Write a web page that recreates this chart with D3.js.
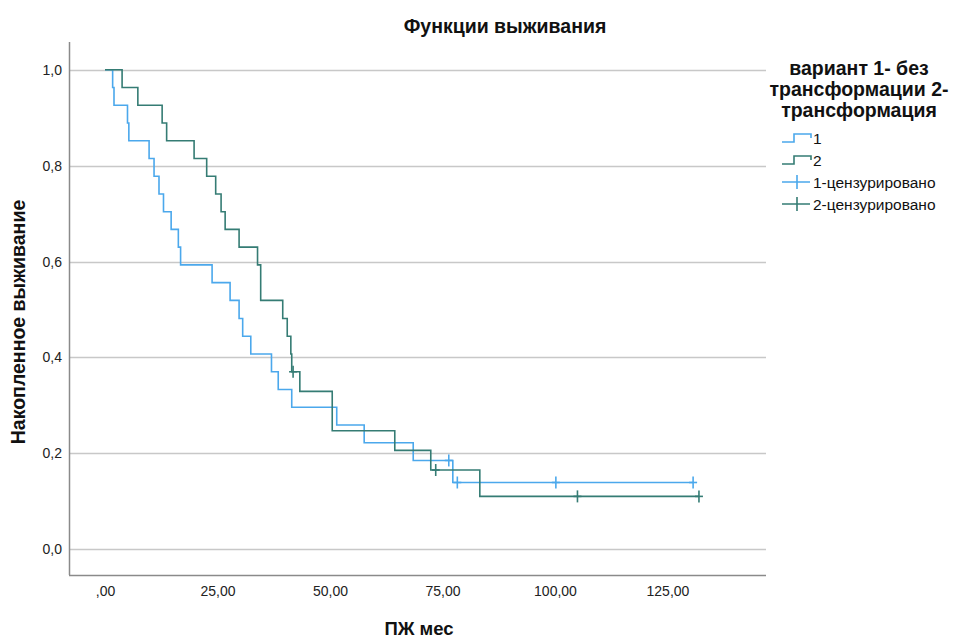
<!DOCTYPE html>
<html>
<head>
	<meta charset="utf-8">
	<title>Функции выживания</title>
	<script type="text/javascript" src="https://cdnjs.cloudflare.com/ajax/libs/d3/7.8.5/d3.min.js"></script>
	<style>
		body { margin: 0; background: #fff; }
		text { font-family: "Liberation Sans", Arial, sans-serif; fill: #111; }
	</style>
</head>
<body>
</body>

<script type="text/javascript">

// Kaplan-Meier values

// group 1 (без трансформации): step times and survival after each step
var g1Time = [0, 1.7, 2.0, 5.0, 5.3, 9.8, 10.9, 12.0, 13.0, 14.7, 16.3, 16.8, 23.8, 27.8, 29.8, 30.6, 32.4, 37.0, 38.5, 41.5, 51.5, 57.6, 68.5, 77.3]
var g1Surv = [1.000, 0.963, 0.926, 0.889, 0.852, 0.815, 0.778, 0.741, 0.704, 0.667, 0.630, 0.593, 0.556, 0.519, 0.481, 0.444, 0.407, 0.370, 0.333, 0.296, 0.259, 0.222, 0.185, 0.139]
var g1CensTime = [76.4, 78.3, 100.2, 130.7]
var g1CensSurv = [0.185, 0.139, 0.139, 0.139]

// group 2 (трансформация)
var g2Time = [0, 3.8, 7.3, 12.7, 13.7, 19.8, 22.6, 24.6, 25.8, 26.7, 29.8, 33.9, 34.6, 39.5, 40.5, 41.3, 41.5, 43.3, 50.5, 64.4, 72.4, 83.3]
var g2Surv = [1.000, 0.963, 0.926, 0.889, 0.852, 0.815, 0.778, 0.741, 0.704, 0.667, 0.630, 0.593, 0.519, 0.481, 0.444, 0.407, 0.370, 0.329, 0.247, 0.206, 0.165, 0.110]
var g2CensTime = [41.8, 73.5, 105.0, 132.0]
var g2CensSurv = [0.370, 0.165, 0.110, 0.110]

// axis ticks
var xTicks = [0, 25, 50, 75, 100, 125]
var yTicks = [0, 0.2, 0.4, 0.6, 0.8, 1.0]

var legendLabels = ["1", "2", "1-цензурировано", "2-цензурировано"]

var w = 954,
	h = 639

var col1 = "#4ba8ec",
	col2 = "#357c74"

var svg = d3.select("body").append("svg")
	.attr("width", w)
	.attr("height", h)

// plot frame (careful: "top" is taken by window.top)
var plotLeft = 69, plotRight = 766, plotTop = 42, plotBottom = 575

var xScale = d3.scaleLinear()
	.domain([-8, 146.9])
	.range([plotLeft, plotRight])

var yScale = d3.scaleLinear()
	.domain([-0.054, 1.058])
	.range([plotBottom, plotTop])

// gridlines
svg.append("g")
	.selectAll("line")
	.data(yTicks)
	.enter()
	.append("line")
	.attr("x1", plotLeft)
	.attr("x2", plotRight)
	.attr("y1", function(d){ return Math.round(yScale(d)) + 0.5 })
	.attr("y2", function(d){ return Math.round(yScale(d)) + 0.5 })
	.style("stroke", "#c8c8c8")
	.style("stroke-width", 1.5)

// axes (no tick marks, only labels)
var xAxis = d3.axisBottom(xScale)
	.tickValues(xTicks)
	.tickSize(0)
	.tickPadding(7)
	.tickFormat(function(d){ return d === 0 ? ",00" : d.toFixed(2).replace(".", ",") })

var yAxis = d3.axisLeft(yScale)
	.tickValues(yTicks)
	.tickSize(0)
	.tickPadding(7)
	.tickFormat(function(d){ return d.toFixed(1).replace(".", ",") })

var gx = svg.append("g")
	.attr("transform", "translate(0," + plotBottom + ")")
	.call(xAxis)
var gy = svg.append("g")
	.attr("transform", "translate(" + plotLeft + ",0)")
	.call(yAxis)

gx.select(".domain").attr("d", "M" + plotLeft + ",0.5H" + plotRight)
gy.select(".domain").attr("d", "M0.5," + plotTop + "V" + plotBottom)
svg.selectAll(".domain").style("stroke", "#8a8a8a").style("stroke-width", 1.5)
svg.selectAll(".tick text")
	.style("font-family", "'Liberation Sans', Arial, sans-serif")
	.style("font-size", "14px")
	.style("fill", "#222")
gx.selectAll(".tick text").attr("dy", "1.0em")

// step curves
var stepLine = d3.line()
	.x(function(d){ return xScale(d[0]) })
	.y(function(d){ return yScale(d[1]) })
	.curve(d3.curveStepAfter)

function drawGroup(times, surv, censT, censS, colour) {
	var pts = times.map(function(t, i){ return [t, surv[i]] })
	pts.push([d3.max(censT), surv[surv.length - 1]])

	svg.append("path")
		.datum(pts)
		.attr("d", stepLine)
		.style("fill", "none")
		.style("stroke", colour)
		.style("stroke-width", 1.6)

	// censor marks
	var marks = svg.append("g").selectAll("g")
		.data(censT)
		.enter()
		.append("g")
		.attr("transform", function(d, i){
			return "translate(" + xScale(d) + "," + yScale(censS[i]) + ")"
		})
	marks.append("line")
		.attr("x1", 0).attr("x2", 0).attr("y1", -6).attr("y2", 6)
		.style("stroke", colour).style("stroke-width", 1.6)
	marks.append("line")
		.attr("x1", -4).attr("x2", 4).attr("y1", 0).attr("y2", 0)
		.style("stroke", colour).style("stroke-width", 1.6)
}

drawGroup(g1Time, g1Surv, g1CensTime, g1CensSurv, col1)
drawGroup(g2Time, g2Surv, g2CensTime, g2CensSurv, col2)

// titles
svg.append("text")
	.attr("x", 505)
	.attr("y", 33)
	.attr("text-anchor", "middle")
	.style("font-size", "19.5px")
	.style("font-weight", "bold")
	.text("Функции выживания")

svg.append("text")
	.attr("transform", "translate(25,322) rotate(-90)")
	.attr("text-anchor", "middle")
	.style("font-size", "19.5px")
	.style("font-weight", "bold")
	.text("Накопленное выживание")

svg.append("text")
	.attr("x", 419)
	.attr("y", 635)
	.attr("text-anchor", "middle")
	.style("font-size", "18.5px")
	.style("font-weight", "bold")
	.text("ПЖ мес")

// legend
var legendTitle = ["вариант 1- без", "трансформации 2-", "трансформация"]
svg.append("g").selectAll("text")
	.data(legendTitle)
	.enter()
	.append("text")
	.attr("x", 859)
	.attr("y", function(d, i){ return 75 + i * 21 })
	.attr("text-anchor", "middle")
	.style("font-size", "19.5px")
	.style("font-weight", "bold")
	.text(function(d){ return d })

var legendColours = [col1, col2, col1, col2]
var items = svg.append("g").selectAll("g")
	.data(legendLabels)
	.enter()
	.append("g")
	.attr("transform", function(d, i){ return "translate(782," + (138 + i * 22) + ")" })

items.append("text")
	.attr("x", 31)
	.attr("y", 5.5)
	.style("font-size", "15.5px")
	.text(function(d){ return d })

items.filter(function(d, i){ return i < 2 })
	.append("path")
	.attr("d", "M0,4H12V-4H29V0")
	.style("fill", "none")
	.style("stroke", function(d, i){ return legendColours[i] })
	.style("stroke-width", 1.6)

items.filter(function(d, i){ return i >= 2 })
	.append("path")
	.attr("d", "M0,0H28M15,-7V7")
	.style("fill", "none")
	.style("stroke", function(d, i){ return legendColours[i + 2] })
	.style("stroke-width", 1.6)

</script>

</html>
